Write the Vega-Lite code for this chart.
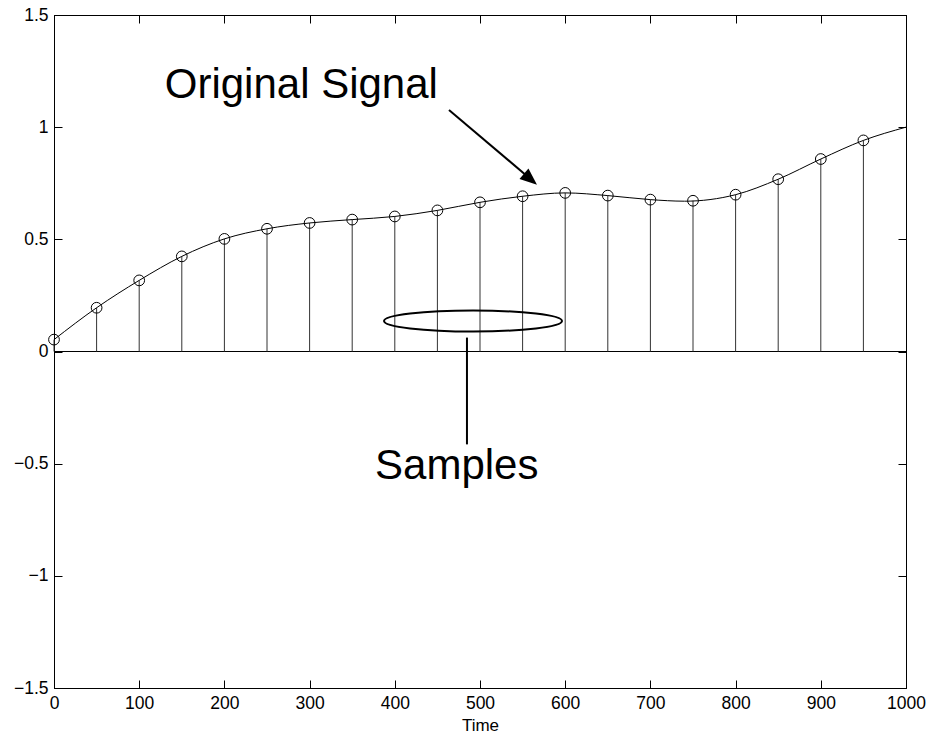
{
  "$schema": "https://vega.github.io/schema/vega-lite/v6.json",
  "width": 852,
  "height": 673,
  "autosize": {"type": "none"},
  "padding": {"left": 54, "top": 15, "right": 22, "bottom": 50},
  "background": "white",
  "config": {
    "view": {"stroke": "black", "strokeWidth": 1},
    "axis": {
      "grid": false,
      "domainColor": "black",
      "domainWidth": 1,
      "tickColor": "black",
      "tickWidth": 1,
      "tickSize": -8,
      "labelPadding": 14,
      "labelFlush": false,
      "labelOverlap": false,
      "labelFont": "Liberation Sans",
      "labelFontSize": 17.5,
      "labelColor": "black",
      "titleFont": "Liberation Sans",
      "titleFontSize": 17,
      "titleFontWeight": "normal",
      "titleColor": "black"
    }
  },
  "datasets": {
    "samples": [
      {"t": 0, "v": 0.053},
      {"t": 50, "v": 0.195},
      {"t": 100, "v": 0.317},
      {"t": 150, "v": 0.424},
      {"t": 200, "v": 0.502},
      {"t": 250, "v": 0.547},
      {"t": 300, "v": 0.573},
      {"t": 350, "v": 0.588},
      {"t": 400, "v": 0.602},
      {"t": 450, "v": 0.629},
      {"t": 500, "v": 0.665},
      {"t": 550, "v": 0.692},
      {"t": 600, "v": 0.707},
      {"t": 650, "v": 0.695},
      {"t": 700, "v": 0.677},
      {"t": 750, "v": 0.672},
      {"t": 800, "v": 0.699},
      {"t": 850, "v": 0.768},
      {"t": 900, "v": 0.858},
      {"t": 950, "v": 0.941}
    ],
    "signal": [
      {"t": 0, "v": 0.053},
      {"t": 50, "v": 0.195},
      {"t": 100, "v": 0.317},
      {"t": 150, "v": 0.424},
      {"t": 200, "v": 0.502},
      {"t": 250, "v": 0.547},
      {"t": 300, "v": 0.573},
      {"t": 350, "v": 0.588},
      {"t": 400, "v": 0.602},
      {"t": 450, "v": 0.629},
      {"t": 500, "v": 0.665},
      {"t": 550, "v": 0.692},
      {"t": 600, "v": 0.707},
      {"t": 650, "v": 0.695},
      {"t": 700, "v": 0.677},
      {"t": 740, "v": 0.670},
      {"t": 800, "v": 0.699},
      {"t": 850, "v": 0.768},
      {"t": 900, "v": 0.858},
      {"t": 950, "v": 0.941},
      {"t": 1000, "v": 1.0}
    ],
    "zero": [{"v": 0}],
    "arrow": [{"x": 463.6, "y": 1.077, "x2": 559.9, "y2": 0.767, "tx": 566.9, "ty": 0.7435}],
    "ellipse": [{"x": 491.8, "y": 0.136}],
    "pointer": [{"x": 484.7, "y": 0.062, "y2": -0.414}],
    "labels": [
      {"x": 130, "y": 1.131, "text": "Original Signal"},
      {"x": 376.8, "y": -0.57, "text": "Samples"}
    ]
  },
  "layer": [
    {
      "data": {"name": "zero"},
      "mark": {"type": "rule", "color": "black", "strokeWidth": 1},
      "encoding": {
        "y": {"field": "v", "type": "quantitative", "scale": {"domain": [-1.5, 1.5], "nice": false, "zero": false}, "axis": null}
      }
    },
    {
      "data": {"name": "samples"},
      "mark": {"type": "rule", "color": "#333333", "strokeWidth": 1},
      "encoding": {
        "x": {
          "field": "t", "type": "quantitative",
          "scale": {"domain": [0, 1000], "nice": false, "zero": false},
          "axis": {"orient": "bottom", "values": [0, 100, 200, 300, 400, 500, 600, 700, 800, 900, 1000], "format": "d", "title": "Time", "titlePadding": 6}
        },
        "y": {
          "field": "v", "type": "quantitative",
          "scale": {"domain": [-1.5, 1.5], "nice": false, "zero": false},
          "axis": {"orient": "left", "values": [-1.5, -1, -0.5, 0, 0.5, 1, 1.5], "format": "~g", "title": null}
        },
        "y2": {"datum": 0}
      }
    },
    {
      "data": {"name": "signal"},
      "mark": {"type": "line", "color": "black", "strokeWidth": 1, "interpolate": "monotone"},
      "encoding": {
        "x": {
          "field": "t", "type": "quantitative",
          "scale": {"domain": [0, 1000], "nice": false, "zero": false},
          "axis": {"orient": "top", "values": [0, 100, 200, 300, 400, 500, 600, 700, 800, 900, 1000], "labels": false, "title": null}
        },
        "y": {
          "field": "v", "type": "quantitative",
          "scale": {"domain": [-1.5, 1.5], "nice": false, "zero": false},
          "axis": {"orient": "right", "values": [-1.5, -1, -0.5, 0, 0.5, 1, 1.5], "labels": false, "title": null}
        }
      }
    },
    {
      "data": {"name": "samples"},
      "mark": {"type": "point", "shape": "circle", "filled": false, "color": "black", "strokeWidth": 1, "size": 115, "opacity": 1},
      "encoding": {
        "x": {"field": "t", "type": "quantitative", "axis": null},
        "y": {"field": "v", "type": "quantitative", "axis": null}
      }
    },
    {
      "data": {"name": "arrow"},
      "mark": {"type": "rule", "color": "black", "strokeWidth": 2},
      "encoding": {
        "x": {"field": "x", "type": "quantitative", "axis": null},
        "y": {"field": "y", "type": "quantitative", "axis": null},
        "x2": {"field": "x2"},
        "y2": {"field": "y2"}
      }
    },
    {
      "data": {"name": "arrow"},
      "mark": {"type": "point", "shape": "M 0 0 L -0.82 2 L 0.82 2 Z", "filled": true, "color": "black", "size": 289, "angle": 130, "opacity": 1},
      "encoding": {
        "x": {"field": "tx", "type": "quantitative", "axis": null},
        "y": {"field": "ty", "type": "quantitative", "axis": null}
      }
    },
    {
      "data": {"name": "ellipse"},
      "mark": {"type": "point", "shape": "M -1 0 A 1 0.118 0 1 0 1 0 A 1 0.118 0 1 0 -1 0 Z", "filled": false, "color": "black", "strokeWidth": 2, "size": 31684, "opacity": 1},
      "encoding": {
        "x": {"field": "x", "type": "quantitative", "axis": null},
        "y": {"field": "y", "type": "quantitative", "axis": null}
      }
    },
    {
      "data": {"name": "pointer"},
      "mark": {"type": "rule", "color": "black", "strokeWidth": 2},
      "encoding": {
        "x": {"field": "x", "type": "quantitative", "axis": null},
        "y": {"field": "y", "type": "quantitative", "axis": null},
        "y2": {"field": "y2"}
      }
    },
    {
      "data": {"name": "labels"},
      "mark": {"type": "text", "font": "Liberation Sans", "fontSize": 42, "align": "left", "baseline": "alphabetic", "color": "black"},
      "encoding": {
        "x": {"field": "x", "type": "quantitative", "axis": null},
        "y": {"field": "y", "type": "quantitative", "axis": null},
        "text": {"field": "text"}
      }
    }
  ],
  "resolve": {"axis": {"x": "independent", "y": "independent"}}
}
